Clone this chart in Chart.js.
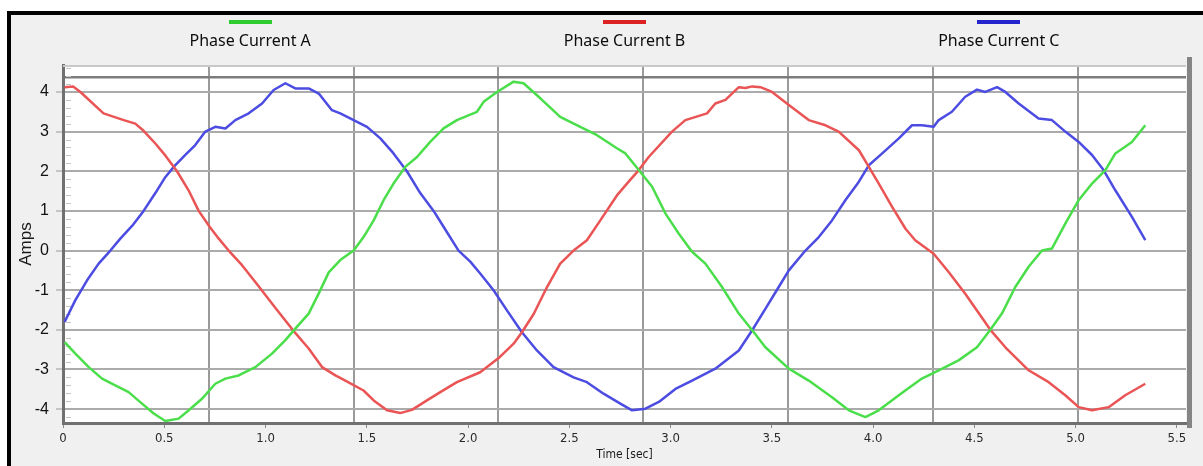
<!DOCTYPE html>
<html>
<head>
<meta charset="utf-8">
<title>Phase Currents</title>
<script src="https://cdn.jsdelivr.net/npm/chart.js@4.4.1/dist/chart.umd.min.js"></script>
<style>
  html, body { margin: 0; padding: 0; background: #fff; overflow: hidden; }
  #frame {
    position: absolute; left: 7px; top: 11px; right: 0; bottom: 0;
    border-top: 4px solid #000; border-left: 4px solid #000;
    background: #f0f0f0;
  }
  #wrap { position: absolute; left: 0; top: 0; width: 1203px; height: 466px; }
  #legend { position: absolute; left: 63px; top: 0; width: 1123px; display: flex; }
  .item { flex: 1; text-align: center; }
  .swatch { width: 43px; height: 4px; margin: 20px auto 0; }
  .label { font: 16px "Noto Sans", sans-serif; color: #0d0d0d; margin-top: 5px; }
</style>
</head>
<body>
<div id="frame"></div>
<div id="wrap">
  <canvas id="chart" width="1203" height="466"></canvas>
  <div id="legend"></div>
</div>
<script>
// axis ticks
const xTicks = [0, 0.5, 1.0, 1.5, 2.0, 2.5, 3.0, 3.5, 4.0, 4.5, 5.0, 5.5];
const yTicks = [-4, -3, -2, -1, 0, 1, 2, 3, 4];
const gridTimes = [0.72, 1.435, 2.15, 2.865, 3.58, 4.295, 5.01];
const limitLine = 4.37;
const xMax = 5.545;
const yMin = -4.35;
const yMax = 4.68;

// Phase Current A
const timeA = [0.008, 0.061, 0.127, 0.193, 0.258, 0.324, 0.39, 0.448, 0.505, 0.571,
  0.621, 0.686, 0.752, 0.802, 0.867, 0.95, 1.032, 1.098, 1.147, 1.213,
  1.263, 1.312, 1.369, 1.435, 1.484, 1.534, 1.583, 1.632, 1.69, 1.748,
  1.813, 1.879, 1.945, 2.044, 2.077, 2.143, 2.225, 2.274, 2.357, 2.455,
  2.554, 2.637, 2.735, 2.777, 2.843, 2.909, 2.975, 3.04, 3.106, 3.172,
  3.254, 3.337, 3.411, 3.468, 3.584, 3.682, 3.797, 3.88, 3.962, 4.028,
  4.127, 4.159, 4.241, 4.324, 4.422, 4.513, 4.579, 4.636, 4.702, 4.768,
  4.834, 4.883, 4.949, 5.015, 5.081, 5.147, 5.196, 5.278, 5.344];
const phaseA = [-2.31, -2.6, -2.94, -3.23, -3.4, -3.57, -3.86, -4.11, -4.3, -4.24,
  -4.03, -3.74, -3.36, -3.23, -3.15, -2.94, -2.6, -2.26, -1.97, -1.59,
  -1.08, -0.55, -0.24, 0.0, 0.34, 0.76, 1.27, 1.69, 2.11, 2.36,
  2.74, 3.08, 3.29, 3.5, 3.75, 4.0, 4.26, 4.22, 3.84, 3.37,
  3.12, 2.91, 2.58, 2.45, 2.03, 1.61, 0.93, 0.43, -0.03, -0.33,
  -0.92, -1.59, -2.06, -2.44, -2.98, -3.28, -3.7, -4.03, -4.2, -4.03,
  -3.65, -3.53, -3.23, -3.02, -2.77, -2.44, -2.0, -1.59, -0.92, -0.41,
  0.0, 0.05, 0.68, 1.27, 1.69, 2.03, 2.45, 2.74, 3.16];

// Phase Current B
const timeB = [0.008, 0.05, 0.086, 0.2, 0.3, 0.357, 0.398, 0.456, 0.505, 0.563,
  0.62, 0.67, 0.724, 0.769, 0.818, 0.884, 0.966, 1.049, 1.134, 1.213,
  1.279, 1.345, 1.394, 1.484, 1.534, 1.6, 1.665, 1.723, 1.797, 1.863,
  1.945, 2.06, 2.156, 2.225, 2.266, 2.324, 2.39, 2.455, 2.521, 2.587,
  2.653, 2.735, 2.79, 2.843, 2.892, 3.007, 3.073, 3.18, 3.221, 3.271,
  3.337, 3.37, 3.403, 3.444, 3.501, 3.584, 3.682, 3.765, 3.83, 3.93,
  3.979, 4.028, 4.094, 4.16, 4.208, 4.299, 4.373, 4.455, 4.579, 4.653,
  4.768, 4.867, 4.949, 5.015, 5.081, 5.163, 5.245, 5.344];
const phaseB = [4.12, 4.14, 4.0, 3.46, 3.29, 3.2, 3.02, 2.7, 2.4, 2.0,
  1.52, 1.0, 0.6, 0.3, 0.0, -0.37, -0.9, -1.45, -2.0, -2.47,
  -2.94, -3.15, -3.28, -3.53, -3.78, -4.03, -4.1, -4.02, -3.78, -3.57,
  -3.32, -3.07, -2.69, -2.35, -2.06, -1.6, -0.92, -0.33, 0.0, 0.26,
  0.76, 1.39, 1.72, 2.03, 2.36, 3.0, 3.29, 3.46, 3.71, 3.8,
  4.12, 4.1, 4.14, 4.12, 4.0, 3.67, 3.29, 3.16, 3.0, 2.53,
  2.11, 1.69, 1.1, 0.55, 0.26, -0.08, -0.54, -1.09, -2.0, -2.44,
  -3.02, -3.32, -3.65, -3.95, -4.03, -3.95, -3.65, -3.36];

// Phase Current C
const timeC = [0.008, 0.061, 0.119, 0.176, 0.234, 0.283, 0.341, 0.398, 0.456, 0.505,
  0.55, 0.604, 0.653, 0.703, 0.752, 0.802, 0.851, 0.917, 0.983, 1.04,
  1.098, 1.147, 1.213, 1.263, 1.328, 1.369, 1.435, 1.501, 1.567, 1.632,
  1.698, 1.764, 1.83, 1.879, 1.953, 2.011, 2.06, 2.126, 2.192, 2.266,
  2.34, 2.422, 2.521, 2.587, 2.669, 2.752, 2.81, 2.876, 2.942, 3.024,
  3.106, 3.221, 3.337, 3.403, 3.468, 3.534, 3.584, 3.666, 3.732, 3.797,
  3.863, 3.929, 3.979, 4.045, 4.127, 4.192, 4.241, 4.299, 4.324, 4.389,
  4.455, 4.513, 4.554, 4.612, 4.653, 4.719, 4.817, 4.883, 4.949, 5.015,
  5.081, 5.138, 5.196, 5.278, 5.344];
const phaseC = [-1.8, -1.25, -0.75, -0.33, 0.0, 0.3, 0.62, 1.0, 1.45, 1.85,
  2.13, 2.41, 2.66, 3.0, 3.12, 3.08, 3.29, 3.46, 3.71, 4.05,
  4.22, 4.09, 4.09, 3.96, 3.54, 3.46, 3.29, 3.12, 2.83, 2.45,
  2.0, 1.45, 1.0, 0.6, 0.0, -0.28, -0.58, -1.0, -1.51, -2.06,
  -2.52, -2.94, -3.2, -3.32, -3.61, -3.86, -4.03, -3.99, -3.82, -3.49,
  -3.28, -2.98, -2.52, -2.01, -1.47, -0.92, -0.5, 0.0, 0.34, 0.76,
  1.27, 1.73, 2.15, 2.45, 2.83, 3.16, 3.16, 3.12, 3.29, 3.5,
  3.88, 4.06, 4.0, 4.12, 4.0, 3.71, 3.33, 3.29, 3.0, 2.74,
  2.41, 2.03, 1.52, 0.85, 0.26];

const seriesNames = ['Phase Current A', 'Phase Current B', 'Phase Current C'];
const lineColors = ['rgb(74, 222, 74)', 'rgb(234, 84, 84)', 'rgb(76, 76, 226)'];
const keyColors = ['#2fcc2f', '#dc2222', '#2424cc'];

const narrow = "'Liberation Sans Narrow', 'Arial Narrow', 'DejaVu Sans Condensed', sans-serif";
const plain = "'Liberation Sans', Arial, sans-serif";

function toPoints(ts, vs) {
  return ts.map((t, i) => ({ x: t, y: vs[i] }));
}

// white plot area, light top edge, minor y ticks and the heavy right edge
const plotDecor = {
  id: 'plotDecor',
  beforeDraw(chart) {
    const { ctx, chartArea: a } = chart;
    ctx.save();
    ctx.fillStyle = '#ffffff';
    ctx.fillRect(a.left, a.top, a.right - a.left, a.bottom - a.top);
    ctx.restore();
  },
  beforeDatasetsDraw(chart) {
    const { ctx, chartArea: a } = chart;
    const y = chart.scales.y;
    ctx.save();
    ctx.strokeStyle = '#c8c8c8';
    ctx.lineWidth = 2;
    ctx.beginPath();
    ctx.moveTo(a.left, a.top + 1);
    ctx.lineTo(a.right, a.top + 1);
    ctx.stroke();
    ctx.strokeStyle = '#c4c4c4';
    ctx.lineWidth = 1;
    for (let k = -21; k <= 23; k++) {
      if (k % 5 === 0) continue;
      const py = Math.round(y.getPixelForValue(k * 0.2)) + 0.5;
      ctx.beginPath();
      ctx.moveTo(a.left + 3, py);
      ctx.lineTo(a.left + 8, py);
      ctx.stroke();
    }
    ctx.restore();
  },
  afterDraw(chart) {
    const { ctx, chartArea: a } = chart;
    ctx.save();
    ctx.fillStyle = '#858585';
    ctx.fillRect(a.right + 1, a.top - 8, 5, a.bottom - a.top + 13);
    ctx.restore();
  }
};

const chart = new Chart(document.getElementById('chart'), {
  type: 'line',
  data: {
    datasets: [
      { label: seriesNames[0], data: toPoints(timeA, phaseA), borderColor: lineColors[0] },
      { label: seriesNames[1], data: toPoints(timeB, phaseB), borderColor: lineColors[1] },
      { label: seriesNames[2], data: toPoints(timeC, phaseC), borderColor: lineColors[2] }
    ]
  },
  options: {
    responsive: false,
    devicePixelRatio: 1,
    animation: false,
    layout: { padding: { top: 65, right: 17, bottom: 0, left: 0 } },
    elements: {
      line: { borderWidth: 2.5, tension: 0, fill: false, borderJoinStyle: 'round' },
      point: { radius: 0 }
    },
    plugins: {
      legend: { display: false },
      tooltip: { enabled: false }
    },
    scales: {
      x: {
        type: 'linear',
        min: 0,
        max: xMax,
        afterBuildTicks: s => { s.ticks = xTicks.map(v => ({ value: v })); },
        afterFit: s => { s.height = 43; },
        ticks: {
          callback: v => (v === 0 ? '0' : v.toFixed(1)),
          font: { family: narrow, size: 13 },
          color: '#2a2a2a',
          padding: 3,
          maxRotation: 0,
          autoSkip: false
        },
        grid: { drawOnChartArea: false, drawTicks: true, tickLength: 5, color: '#8a8a8a', lineWidth: 1 },
        border: { color: '#707070', width: 3 },
        title: {
          display: true,
          text: 'Time [sec]',
          font: { family: narrow, size: 12 },
          color: '#1a1a1a',
          padding: { top: 0, bottom: 4 }
        }
      },
      xGrid: {
        type: 'linear',
        position: 'top',
        min: 0,
        max: xMax,
        afterBuildTicks: s => { s.ticks = gridTimes.map(v => ({ value: v })); },
        afterFit: s => { s.height = 0; },
        ticks: { display: false },
        grid: { color: '#9a9a9a', lineWidth: 2, drawTicks: false },
        border: { display: false }
      },
      y: {
        min: yMin,
        max: yMax,
        afterBuildTicks: s => { s.ticks = yTicks.concat([limitLine]).map(v => ({ value: v })); },
        afterFit: s => { s.width = 63; },
        ticks: {
          callback: v => (v === limitLine ? '' : String(v)),
          font: { family: plain, size: 16 },
          color: '#111',
          padding: 7
        },
        grid: {
          color: c => (c.tick && c.tick.value === limitLine ? '#7c7c7c' : '#ababab'),
          lineWidth: c => (c.tick && c.tick.value === limitLine ? 2.5 : 2),
          tickLength: 7,
          tickColor: c => (c.tick && c.tick.value === limitLine ? 'rgba(0,0,0,0)' : '#9a9a9a'),
          tickWidth: 1
        },
        border: { color: '#707070', width: 3 },
        title: {
          display: true,
          text: 'Amps',
          font: { family: plain, size: 17 },
          color: '#1a1a1a',
          padding: { top: 16, bottom: 0 }
        }
      }
    }
  },
  plugins: [plotDecor]
});

// legend: coloured key above each series name
const legendEl = document.getElementById('legend');
chart.data.datasets.forEach((ds, i) => {
  const item = document.createElement('div');
  item.className = 'item';
  const sw = document.createElement('div');
  sw.className = 'swatch';
  sw.style.background = keyColors[i];
  const lab = document.createElement('div');
  lab.className = 'label';
  lab.textContent = ds.label;
  item.appendChild(sw);
  item.appendChild(lab);
  legendEl.appendChild(item);
});
</script>
</body>
</html>
